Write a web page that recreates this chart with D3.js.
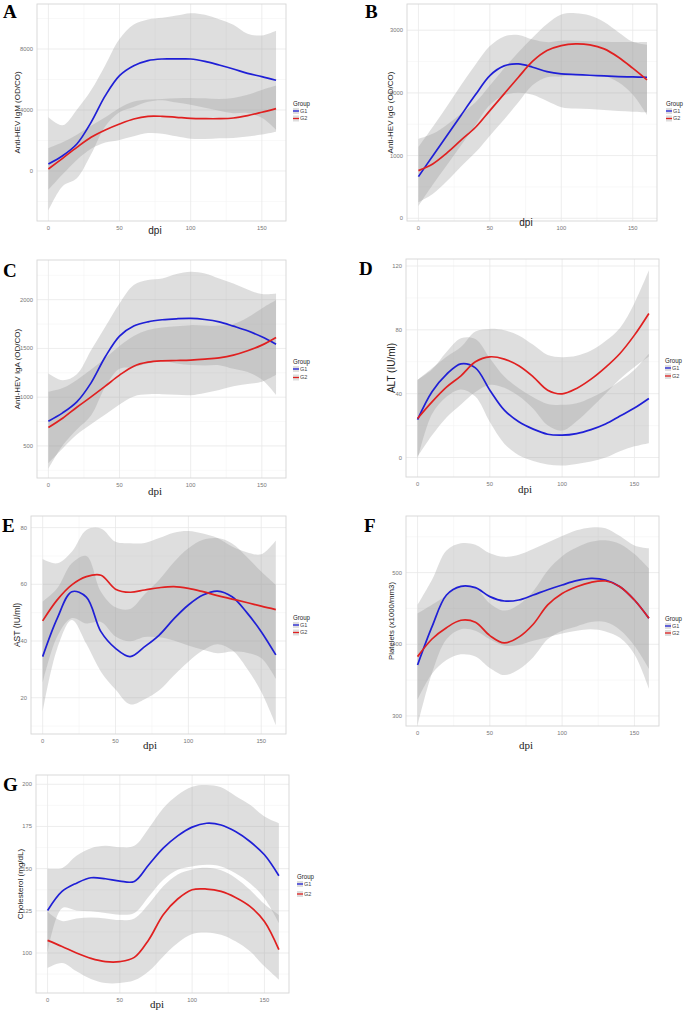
<!DOCTYPE html>
<html>
<head>
<meta charset="utf-8">
<script src="https://cdn.jsdelivr.net/npm/d3@7"></script>
<style>
  body { margin: 0; background: #fff; }
  svg { display: block; }
  text { font-family: "Liberation Sans", Arial, sans-serif; }
</style>
</head>
<body>
<svg id="fig" width="686" height="1013"></svg>
<script>
// sampled days post infection
var dpi = [0, 10, 20, 30, 40, 50, 60, 70, 80, 90, 100, 110, 120, 130, 140, 150, 160];
var groups = ["G1", "G2"];
var xTicks = [0, 50, 100, 150];

// A - anti-HEV IgM
var igmG1   = [460, 1000, 1770, 3190, 4940, 6250, 6900, 7240, 7345, 7345, 7345, 7190, 6950, 6690, 6400, 6190, 5950];
var igmG1Lo = [-2600, -1000, -480, 1090, 2940, 3850, 4200, 4540, 4645, 4495, 4345, 4140, 3950, 3790, 3800, 3490, 2700];
var igmG1Hi = [3520, 3000, 4020, 5290, 6940, 8650, 9600, 9940, 10045, 10195, 10345, 10240, 9950, 9590, 9000, 8890, 9200];
var igmG2   = [131, 830, 1550, 2210, 2690, 3080, 3410, 3585, 3585, 3520, 3450, 3430, 3430, 3475, 3630, 3850, 4090];
var igmG2Lo = [-1240, -220, 720, 1450, 1860, 2030, 2270, 2485, 2445, 2270, 2110, 2095, 2140, 2160, 2260, 2390, 2580];
var igmG2Hi = [1500, 1880, 2380, 2970, 3520, 4130, 4550, 4685, 4725, 4770, 4790, 4765, 4720, 4790, 5000, 5310, 5600];

// B - anti-HEV IgG
var iggG1   = [665, 995, 1319, 1649, 1973, 2277, 2431, 2463, 2410, 2340, 2303, 2292, 2282, 2271, 2261, 2255, 2250];
var iggG1Lo = [195, 535, 849, 1169, 1493, 1807, 1961, 2003, 1970, 1870, 1773, 1752, 1742, 1726, 1711, 1700, 1690];
var iggG1Hi = [1135, 1455, 1789, 2129, 2453, 2747, 2901, 2923, 2850, 2810, 2833, 2832, 2822, 2816, 2811, 2810, 2810];
var iggG2   = [761, 867, 1043, 1250, 1452, 1718, 1984, 2250, 2505, 2675, 2755, 2782, 2766, 2702, 2569, 2394, 2207];
var iggG2Lo = [256, 387, 593, 830, 1052, 1318, 1574, 1850, 2125, 2250, 2260, 2292, 2296, 2272, 2169, 1974, 1647];
var iggG2Hi = [1266, 1347, 1493, 1670, 1852, 2118, 2394, 2650, 2885, 3100, 3250, 3272, 3236, 3132, 2969, 2814, 2767];

// C - anti-HEV IgA
var igaG1   = [754, 839, 952, 1147, 1414, 1626, 1729, 1773, 1794, 1804, 1808, 1797, 1773, 1729, 1681, 1619, 1544];
var igaG1Lo = [265, 504, 668, 812, 1106, 1291, 1308, 1345, 1370, 1345, 1329, 1325, 1328, 1291, 1257, 1181, 1024];
var igaG1Hi = [1243, 1174, 1236, 1482, 1722, 1961, 2150, 2201, 2218, 2263, 2287, 2269, 2218, 2167, 2105, 2057, 2064];
var igaG2   = [689, 784, 897, 1003, 1113, 1226, 1318, 1359, 1373, 1376, 1380, 1390, 1404, 1431, 1476, 1534, 1613];
var igaG2Lo = [323, 474, 617, 723, 823, 926, 1008, 1029, 1031, 1024, 1021, 1044, 1074, 1111, 1134, 1158, 1230];
var igaG2Hi = [1055, 1094, 1177, 1283, 1403, 1526, 1628, 1689, 1715, 1728, 1739, 1736, 1734, 1751, 1818, 1910, 1996];

// D - ALT
var altG1   = [23.8, 41.2, 52.1, 58.7, 56.2, 42.2, 29.7, 22.4, 17.8, 14.6, 14.0, 15, 17.5, 21, 26, 31, 37];
var altG1Lo = [-1.2, 27.2, 38.1, 42.7, 38.2, 22.2, 8.7, 1.4, -2.2, -4.4, -5, -4, -2.5, 0, 4, 7, 9];
var altG1Hi = [48.8, 55.2, 66.1, 74.7, 74.2, 62.2, 50.7, 43.4, 37.8, 33.6, 33, 34, 37.5, 42, 48, 55, 65];
var altG2   = [24.5, 34.9, 44.1, 51.2, 60.0, 63.1, 61.7, 57.5, 50.6, 42.2, 39.9, 43.3, 49.1, 56.5, 65.2, 76.7, 90.3];
var altG2Lo = [0.5, 13.9, 25.1, 33.2, 41, 45.6, 43.7, 38.5, 30.6, 20.2, 16.9, 22.8, 31.1, 40, 49.2, 56.7, 63.3];
var altG2Hi = [48.5, 55.9, 63.1, 69.2, 79, 80.6, 79.7, 76.5, 70.6, 64.2, 62.9, 63.8, 67.1, 73, 81.2, 96.7, 117.3];

// E - AST
var astG1   = [34.5, 48, 57.4, 55.5, 43.3, 37.4, 34.5, 38, 42.1, 47.8, 52.7, 56.2, 57.6, 55.6, 50.1, 43.3, 35.1];
var astG1Lo = [15.1, 37.4, 47.4, 39, 29.2, 22.9, 17.7, 19.5, 22.6, 27.8, 32.7, 36.7, 38.9, 36.8, 30.5, 22.1, 10.4];
var astG1Hi = [53.9, 58.6, 67.4, 70, 57.4, 51.9, 51.3, 56.5, 61.6, 67.8, 72.7, 75.7, 76.3, 74.4, 69.7, 64.5, 59.8];
var astG2   = [47.1, 54.5, 59.8, 62.7, 63.2, 58.3, 57.2, 58.0, 58.8, 59.2, 58.6, 57.4, 56.0, 54.8, 53.6, 52.3, 51.1];
var astG2Lo = [25.3, 41.6, 48.1, 46.2, 46.7, 41.6, 39.9, 41.4, 41.3, 40.2, 38.4, 36.9, 35.7, 36.3, 35.9, 34, 26.7];
var astG2Hi = [68.9, 67.4, 71.5, 79.2, 79.7, 75, 74.5, 74.6, 76.3, 78.2, 78.8, 77.9, 76.3, 73.3, 71.3, 70.6, 75.5];

// F - platelets
var pltG1   = [371.2, 424.6, 468.8, 480.9, 479, 466.5, 460.4, 461.8, 468.8, 476.2, 482.8, 488.8, 492, 489.7, 480.4, 461.8, 436.3];
var pltG1Lo = [287, 360, 407, 421, 419, 407, 398, 399, 405, 410, 415, 419, 421, 418, 409, 386, 338];
var pltG1Hi = [455, 490, 531, 541, 539, 527, 522, 525, 533, 542, 551, 559, 563, 562, 551, 538, 534];
var pltG2   = [382.8, 407.4, 423.2, 433.5, 430.7, 412.1, 401.9, 410, 428, 455, 471, 480.4, 486.5, 488.3, 480.4, 461.8, 436.3];
var pltG2Lo = [323, 359, 378, 386, 383, 367, 357, 365, 382, 407, 419, 425, 431, 431, 420, 398, 366];
var pltG2Hi = [443, 455, 468, 482, 479, 457, 447, 455, 474, 503, 523, 535, 543, 545, 540, 526, 506];

// G - cholesterol
var cholG1   = [125.2, 136.5, 141.4, 144.6, 144, 142.6, 142.4, 152.3, 162.1, 169.4, 174.6, 176.9, 175.9, 172, 166.1, 158.2, 145.8];
var cholG1Lo = [100.2, 126.6, 125.2, 124.7, 123.7, 122.7, 123.7, 133.5, 143.4, 149.3, 151.3, 152.3, 151.3, 147.3, 141.4, 132.5, 117.8];
var cholG1Hi = [150, 150.3, 157.6, 162.1, 163.5, 162.7, 163.5, 174, 185.8, 193.7, 198.6, 199.6, 198.2, 193.1, 187.8, 180.9, 176.9];
var cholG2   = [107.5, 103.9, 100, 96.8, 94.9, 94.9, 97.4, 107.9, 122.7, 132, 137.5, 137.9, 136.5, 132.9, 127.6, 118.7, 102];
var cholG2Lo = [91.1, 94.1, 89.2, 84.6, 82.2, 82.2, 83.8, 89.2, 98, 105.9, 111.2, 112.2, 110.8, 106.9, 101, 92.1, 84.2];
var cholG2Hi = [124.5, 119, 120.5, 121, 120.5, 119.5, 120.5, 129, 139.5, 146.5, 149.5, 150.5, 149, 144.5, 137.5, 129, 122.5];

var colors = { G1: "#1f1fd6", G2: "#e02020" };

var panels = [
  { letter: "A", ylab: "Anti-HEV IgM (OD/CO)", box: [37, 4, 286, 221], yDom: [-3280, 10950],
    yTicks: [0, 4000, 8000], yMinor: [-2000, 2000, 6000, 10000],
    series: [[igmG1, igmG1Lo, igmG1Hi], [igmG2, igmG2Lo, igmG2Hi]],
    letterAt: [3, 18], ylabX: 17, ylabSize: 8, dpiAt: [155, 234], dpiSerif: false, legend: [293, 100, 7.5] },
  { letter: "B", ylab: "Anti-HEV IgG (OD/CO)", box: [407, 4, 657, 221], yDom: [-43, 3418],
    yTicks: [0, 1000, 2000, 3000], yMinor: [500, 1500, 2500],
    series: [[iggG1, iggG1Lo, iggG1Hi], [iggG2, iggG2Lo, iggG2Hi]],
    letterAt: [365, 18], ylabX: 390, ylabSize: 8, dpiAt: [526, 226], dpiSerif: false, legend: [666, 100, 7.5] },
  { letter: "C", ylab: "Anti-HEV IgA (OD/CO)", box: [37, 260, 286, 478], yDom: [171, 2407],
    yTicks: [500, 1000, 1500, 2000], yMinor: [250, 750, 1250, 1750, 2250],
    series: [[igaG1, igaG1Lo, igaG1Hi], [igaG2, igaG2Lo, igaG2Hi]],
    letterAt: [3, 277], ylabX: 17, ylabSize: 8, dpiAt: [155, 495], dpiSerif: true, legend: [293, 358, 8.5] },
  { letter: "D", ylab: "ALT (IU/ml)", box: [406, 259, 659, 477], yDom: [-12.2, 124.4],
    yTicks: [0, 40, 80, 120], yMinor: [20, 60, 100],
    series: [[altG1, altG1Lo, altG1Hi], [altG2, altG2Lo, altG2Hi]],
    letterAt: [359, 275], ylabX: 391, ylabSize: 10, dpiAt: [525, 493], dpiSerif: true, legend: [665, 357, 8] },
  { letter: "E", ylab: "AST (IU/ml)", box: [31, 516, 286, 734], yDom: [7.2, 84.1],
    yTicks: [20, 40, 60, 80], yMinor: [10, 30, 50, 70],
    series: [[astG1, astG1Lo, astG1Hi], [astG2, astG2Lo, astG2Hi]],
    letterAt: [2, 532], ylabX: 17, ylabSize: 8.5, dpiAt: [150, 749], dpiSerif: true, legend: [293, 614, 7.5] },
  { letter: "F", ylab: "Platelets (x1000/mm3)", box: [406, 516, 659, 726], yDom: [286, 579],
    yTicks: [300, 400, 500], yMinor: [350, 450, 550],
    series: [[pltG1, pltG1Lo, pltG1Hi], [pltG2, pltG2Lo, pltG2Hi]],
    letterAt: [364, 532], ylabX: 391, ylabSize: 7.8, dpiAt: [526, 749], dpiSerif: true, legend: [665, 615, 7] },
  { letter: "G", ylab: "Cholesterol (mg/dL)", box: [36, 775, 289, 993], yDom: [76.3, 205.5],
    yTicks: [100, 125, 150, 175, 200], yMinor: [87.5, 112.5, 137.5, 162.5, 187.5],
    series: [[cholG1, cholG1Lo, cholG1Hi], [cholG2, cholG2Lo, cholG2Hi]],
    letterAt: [3, 791], ylabX: 20, ylabSize: 8, dpiAt: [157, 1008], dpiSerif: true, legend: [297, 873, 10] }
];

var svg = d3.select("#fig");

panels.forEach(function (p) {
  var b = p.box;
  var x = d3.scaleLinear().domain([-8, 167]).range([b[0], b[2]]);
  var y = d3.scaleLinear().domain(p.yDom).range([b[3], b[1]]);
  var g = svg.append("g");

  // minor grid
  g.selectAll(".ymin").data(p.yMinor).enter().append("line")
      .attr("x1", b[0]).attr("x2", b[2])
      .attr("y1", d => y(d)).attr("y2", d => y(d))
      .attr("stroke", "#f4f4f4").attr("stroke-width", 0.6);
  g.selectAll(".xmin").data([25, 75, 125]).enter().append("line")
      .attr("y1", b[1]).attr("y2", b[3])
      .attr("x1", d => x(d)).attr("x2", d => x(d))
      .attr("stroke", "#f4f4f4").attr("stroke-width", 0.6);
  // major grid
  g.selectAll(".ymaj").data(p.yTicks).enter().append("line")
      .attr("x1", b[0]).attr("x2", b[2])
      .attr("y1", d => y(d)).attr("y2", d => y(d))
      .attr("stroke", "#e8e8e8").attr("stroke-width", 0.8);
  g.selectAll(".xmaj").data(xTicks).enter().append("line")
      .attr("y1", b[1]).attr("y2", b[3])
      .attr("x1", d => x(d)).attr("x2", d => x(d))
      .attr("stroke", "#e8e8e8").attr("stroke-width", 0.8);

  var area = d3.area()
      .curve(d3.curveCatmullRom)
      .x((d, i) => x(dpi[i]))
      .y0(d => y(d[0]))
      .y1(d => y(d[1]));
  var line = d3.line()
      .curve(d3.curveCatmullRom)
      .x((d, i) => x(dpi[i]))
      .y(d => y(d));

  // confidence bands
  p.series.forEach(function (s) {
    var band = s[1].map((lo, i) => [lo, s[2][i]]);
    g.append("path")
        .attr("d", area(band))
        .attr("fill", "#999")
        .attr("fill-opacity", 0.32);
  });
  // smooth lines
  p.series.forEach(function (s, k) {
    g.append("path")
        .attr("d", line(s[0]))
        .attr("fill", "none")
        .attr("stroke", colors[groups[k]])
        .attr("stroke-width", 1.7);
  });

  // frame
  g.append("rect")
      .attr("x", b[0]).attr("y", b[1])
      .attr("width", b[2] - b[0]).attr("height", b[3] - b[1])
      .attr("fill", "none").attr("stroke", "#d6d6d6").attr("stroke-width", 0.9);

  // tick labels
  g.selectAll(".yl").data(p.yTicks).enter().append("text")
      .attr("x", b[0] - 4).attr("y", d => y(d))
      .attr("dy", "0.35em").attr("text-anchor", "end")
      .attr("font-size", 5.8).attr("fill", "#777")
      .text(d => d);
  g.selectAll(".xl").data(xTicks).enter().append("text")
      .attr("x", d => x(d)).attr("y", b[3] + 7)
      .attr("dy", "0.35em").attr("text-anchor", "middle")
      .attr("font-size", 5.8).attr("fill", "#777")
      .text(d => d);

  // axis titles
  g.append("text")
      .attr("transform", "translate(" + p.ylabX + "," + ((b[1] + b[3]) / 2) + ") rotate(-90)")
      .attr("text-anchor", "middle").attr("dy", "0.35em")
      .attr("font-size", p.ylabSize).attr("fill", "#222")
      .text(p.ylab);
  g.append("text")
      .attr("x", p.dpiAt[0]).attr("y", p.dpiAt[1])
      .attr("text-anchor", "middle")
      .style("font-family", p.dpiSerif ? "'Liberation Serif', serif" : "'Liberation Sans', sans-serif")
      .attr("font-size", p.dpiSerif ? 11 : 10).attr("fill", "#222")
      .text("dpi");

  // panel letter
  g.append("text")
      .attr("x", p.letterAt[0]).attr("y", p.letterAt[1])
      .style("font-family", "'Liberation Serif', 'Times New Roman', serif")
      .attr("font-weight", "bold").attr("font-size", 19).attr("fill", "#000")
      .text(p.letter);

  // legend
  var lx = p.legend[0], ly = p.legend[1], sp = p.legend[2];
  var lg = g.append("g");
  lg.append("text")
      .attr("x", lx).attr("y", ly + 6)
      .attr("font-size", 7).attr("fill", "#222")
      .attr("textLength", 17).attr("lengthAdjust", "spacingAndGlyphs")
      .text("Group");
  groups.forEach(function (gr, k) {
    var cy = ly + 11 + k * sp;
    lg.append("rect")
        .attr("x", lx).attr("y", cy - 3).attr("width", 6).attr("height", 6)
        .attr("fill", "#999").attr("fill-opacity", 0.32);
    lg.append("line")
        .attr("x1", lx).attr("x2", lx + 6).attr("y1", cy).attr("y2", cy)
        .attr("stroke", colors[gr]).attr("stroke-width", 1.3);
    lg.append("text")
        .attr("x", lx + 7).attr("y", cy).attr("dy", "0.35em")
        .attr("font-size", 5.5).attr("fill", "#444")
        .text(gr);
  });
});
</script>
</body>
</html>
